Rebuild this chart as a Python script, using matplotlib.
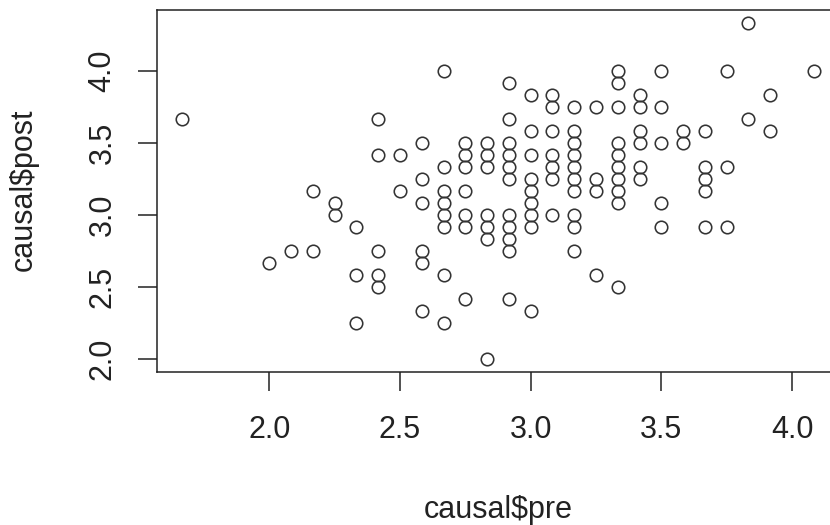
import numpy as np
import matplotlib
matplotlib.use("Agg")
import matplotlib.pyplot as plt

# causal$pre / causal$post (values fall on twelfths)
pre = [1.667,
       2.0,
       2.083,
       2.167, 2.167,
       2.25, 2.25,
       2.333, 2.333, 2.333,
       2.417, 2.417, 2.417, 2.417, 2.417,
       2.5, 2.5,
       2.583, 2.583, 2.583, 2.583, 2.583, 2.583,
       2.667, 2.667, 2.667, 2.667, 2.667, 2.667, 2.667, 2.667,
       2.75, 2.75, 2.75, 2.75, 2.75, 2.75, 2.75,
       2.833, 2.833, 2.833, 2.833, 2.833, 2.833, 2.833,
       2.917, 2.917, 2.917, 2.917, 2.917, 2.917, 2.917, 2.917, 2.917, 2.917, 2.917,
       3.0, 3.0, 3.0, 3.0, 3.0, 3.0, 3.0, 3.0, 3.0,
       3.083, 3.083, 3.083, 3.083, 3.083, 3.083, 3.083,
       3.167, 3.167, 3.167, 3.167, 3.167, 3.167, 3.167, 3.167, 3.167, 3.167,
       3.25, 3.25, 3.25, 3.25,
       3.333, 3.333, 3.333, 3.333, 3.333, 3.333, 3.333, 3.333, 3.333, 3.333,
       3.417, 3.417, 3.417, 3.417, 3.417, 3.417,
       3.5, 3.5, 3.5, 3.5, 3.5,
       3.583, 3.583,
       3.667, 3.667, 3.667, 3.667, 3.667,
       3.75, 3.75, 3.75,
       3.833, 3.833,
       3.917, 3.917,
       4.083]
post = [3.667,
        2.667,
        2.75,
        3.167, 2.75,
        3.083, 3.0,
        2.917, 2.583, 2.25,
        3.667, 3.417, 2.75, 2.583, 2.5,
        3.417, 3.167,
        3.5, 3.25, 3.083, 2.75, 2.667, 2.333,
        4.0, 3.333, 3.167, 3.083, 3.0, 2.917, 2.583, 2.25,
        3.5, 3.417, 3.333, 3.167, 3.0, 2.917, 2.417,
        3.5, 3.417, 3.333, 3.0, 2.917, 2.833, 2.0,
        3.917, 3.667, 3.5, 3.417, 3.333, 3.25, 3.0, 2.917, 2.833, 2.75, 2.417,
        3.833, 3.583, 3.417, 3.25, 3.167, 3.083, 3.0, 2.917, 2.333,
        3.833, 3.75, 3.583, 3.417, 3.333, 3.25, 3.0,
        3.75, 3.583, 3.5, 3.417, 3.333, 3.25, 3.167, 3.0, 2.917, 2.75,
        3.75, 3.25, 3.167, 2.583,
        4.0, 3.917, 3.75, 3.5, 3.417, 3.333, 3.25, 3.167, 3.083, 2.5,
        3.833, 3.75, 3.583, 3.5, 3.333, 3.25,
        4.0, 3.75, 3.5, 3.083, 2.917,
        3.583, 3.5,
        3.583, 3.333, 3.25, 3.167, 2.917,
        4.0, 3.333, 2.917,
        4.333, 3.667,
        3.833, 3.583,
        4.0]

xticks = [2.0, 2.5, 3.0, 3.5, 4.0]
yticks = [2.0, 2.5, 3.0, 3.5, 4.0]

plt.rcParams['font.family'] = ['Liberation Sans', 'DejaVu Sans']
ink = '#222222'

fig = plt.figure(figsize=(8.3, 5.25), dpi=100)
ax = fig.add_axes([157/830, 1 - 372.4/525, 682/830, 362.8/525])

ax.plot(pre, post, linestyle='none', marker='o', markersize=9,
        markerfacecolor='none', markeredgecolor='#333333', markeredgewidth=1.15)

# R style 4% padding around the data range
xr = max(pre) - min(pre)
yr = max(post) - min(post)
ax.set_xlim(min(pre) - 0.04 * xr, max(pre) + 0.04 * xr)
ax.set_ylim(min(post) - 0.04 * yr, max(post) + 0.04 * yr)

ax.set_xticks(xticks)
ax.set_xticklabels(['%.1f' % v for v in xticks])
ax.set_yticks(yticks)
ax.set_yticklabels(['%.1f' % v for v in yticks], rotation=90, va='center')
ax.tick_params(axis='both', direction='out', length=13.5, width=1.1,
               colors=ink, labelsize=22)
ax.tick_params(axis='x', pad=17)
ax.tick_params(axis='y', pad=15)
for s in ax.spines.values():
    s.set_linewidth(1.1)
    s.set_color(ink)

fig.text(498/830, 1 - 510/525, 'causal$pre', ha='center', va='center',
         fontsize=22, color=ink)
fig.text(24/830, 1 - 190/525, 'causal$post', ha='center', va='center',
         rotation=90, fontsize=22, color=ink)

fig.savefig('out.png', dpi=100)
